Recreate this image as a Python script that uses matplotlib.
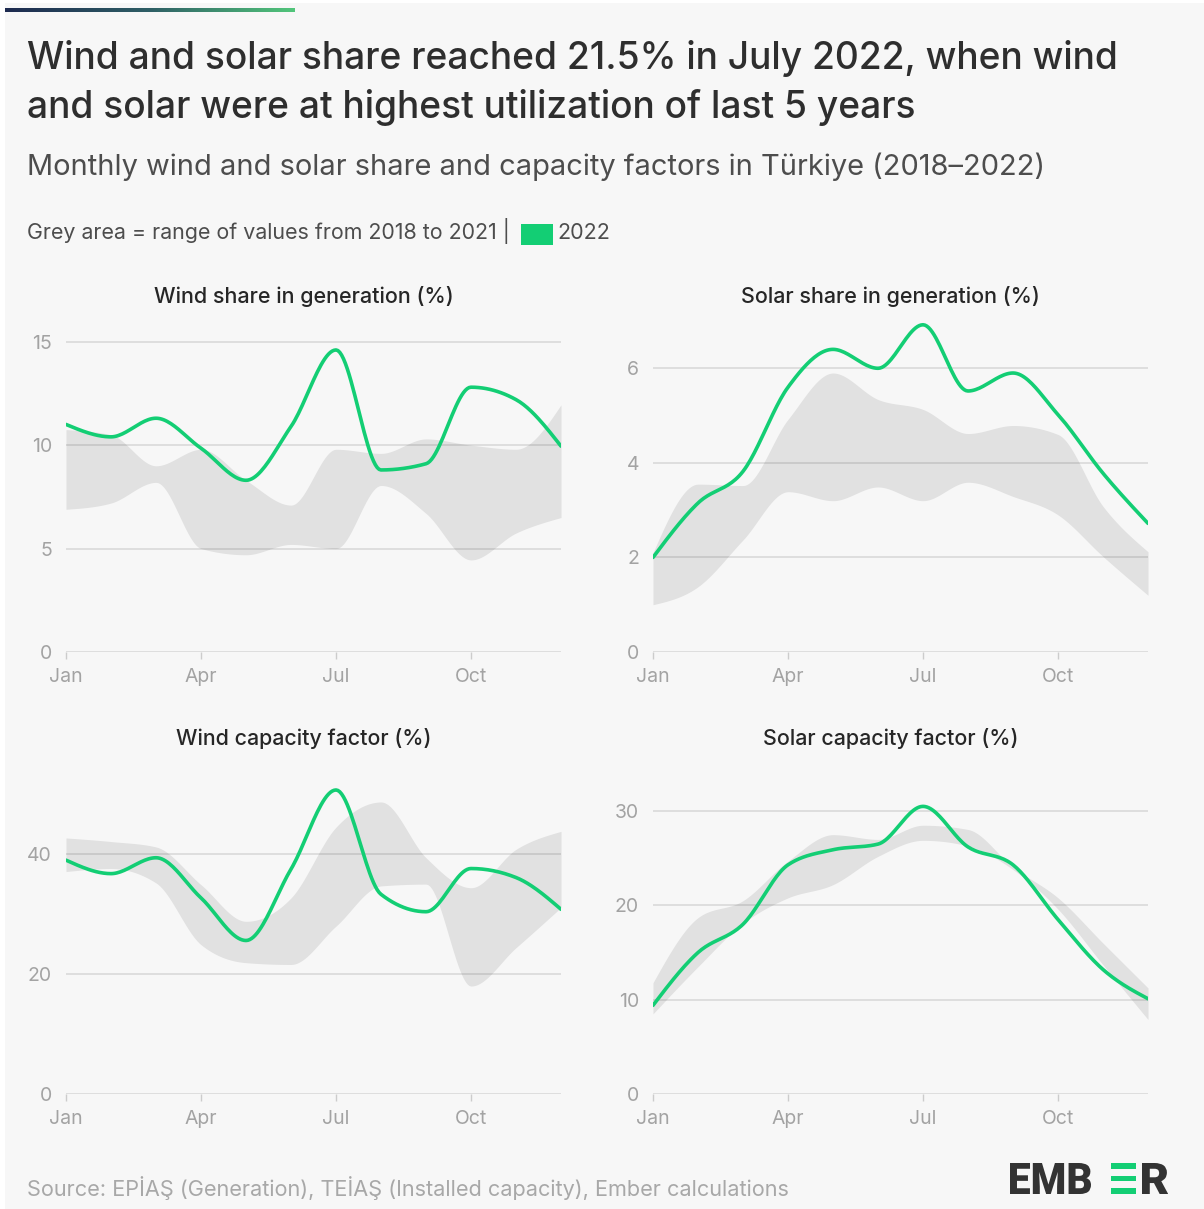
import numpy as np
import matplotlib
matplotlib.use("Agg")
import matplotlib.pyplot as plt
from matplotlib.patches import Rectangle, PathPatch
from matplotlib.textpath import TextPath
from matplotlib.font_manager import FontProperties
from matplotlib.transforms import Affine2D
from matplotlib.colors import LinearSegmentedColormap

# ---------------- data ----------------
months = ["Jan", "Feb", "Mar", "Apr", "May", "Jun", "Jul", "Aug", "Sep", "Oct", "Nov", "Dec"]
tick_months = ["Jan", "Apr", "Jul", "Oct"]

wind_share_2022 = [11.0, 10.4, 11.3, 9.85, 8.3, 10.9, 14.6, 8.8, 9.1, 12.8, 12.2, 9.95]
wind_share_max = [10.75, 10.5, 9.0, 9.8, 8.3, 7.1, 9.8, 9.6, 10.3, 10.0, 9.8, 11.95]
wind_share_min = [6.9, 7.2, 8.2, 5.0, 4.7, 5.2, 5.0, 8.05, 6.7, 4.45, 5.75, 6.5]

solar_share_2022 = [2.0, 3.15, 3.82, 5.6, 6.4, 6.0, 6.92, 5.52, 5.9, 5.02, 3.78, 2.72]
solar_share_max = [2.1, 3.55, 3.52, 4.92, 5.9, 5.34, 5.13, 4.62, 4.79, 4.6, 3.08, 2.12]
solar_share_min = [1.0, 1.38, 2.37, 3.39, 3.2, 3.49, 3.2, 3.59, 3.29, 2.9, 2.02, 1.2]

wind_cf_2022 = [39.0, 36.75, 39.4, 32.7, 25.6, 37.5, 50.7, 33.3, 30.4, 37.6, 36.1, 30.8]
wind_cf_max = [42.7, 42.1, 41.2, 34.9, 28.8, 32.7, 44.5, 48.7, 39.4, 34.4, 40.8, 43.8]
wind_cf_min = [37.1, 37.6, 35.2, 24.9, 21.9, 21.6, 28.0, 34.7, 35.0, 18.0, 24.4, 31.1]

solar_cf_2022 = [9.4, 15.0, 18.0, 24.3, 25.9, 26.5, 30.5, 26.2, 24.3, 18.5, 13.2, 10.1]
solar_cf_max = [11.8, 18.7, 20.5, 24.7, 27.5, 27.0, 28.5, 28.05, 24.05, 20.8, 16.0, 11.25]
solar_cf_min = [8.5, 13.5, 18.1, 20.8, 22.2, 25.2, 26.9, 26.3, 23.8, 19.6, 13.7, 7.9]

panels = [
    ("Wind share in generation (%)", wind_share_2022, wind_share_min, wind_share_max, [0, 5, 10, 15], 16),
    ("Solar share in generation (%)", solar_share_2022, solar_share_min, solar_share_max, [0, 2, 4, 6], 7),
    ("Wind capacity factor (%)", wind_cf_2022, wind_cf_min, wind_cf_max, [0, 20, 40], 55.2),
    ("Solar capacity factor (%)", solar_cf_2022, solar_cf_min, solar_cf_max, [0, 10, 20, 30], 35.1),
]

# ---------------- helpers ----------------
W, H = 1204, 1209
GREEN = "#13ce74"
FONT = ["Inter", "DejaVu Sans"]


def monotone(y, n=24):
    """d3 curveMonotoneX-like interpolation on unit-spaced x."""
    y = np.asarray(y, float)
    m = len(y)
    s = np.diff(y)
    t = np.zeros(m)
    for i in range(1, m - 1):
        s0, s1 = s[i - 1], s[i]
        p = (s0 + s1) / 2
        sg = (1 if s0 >= 0 else -1) + (1 if s1 >= 0 else -1)
        t[i] = sg * min(abs(s0), abs(s1), 0.5 * abs(p))
    t[0] = (3 * s[0] - t[1]) / 2
    t[-1] = (3 * s[-1] - t[-2]) / 2
    xs, ys = [], []
    u = np.linspace(0, 1, n, endpoint=False)
    for i in range(m - 1):
        h00 = 2 * u**3 - 3 * u**2 + 1
        h10 = u**3 - 2 * u**2 + u
        h01 = -2 * u**3 + 3 * u**2
        h11 = u**3 - u**2
        xs.append(i + u)
        ys.append(h00 * y[i] + h10 * t[i] + h01 * y[i + 1] + h11 * t[i + 1])
    xs.append([m - 1])
    ys.append([y[-1]])
    return np.concatenate(xs), np.concatenate(ys)


fig = plt.figure(figsize=(W / 100, H / 100), dpi=100)
fig.patch.set_facecolor("white")
fig.add_artist(Rectangle((5 / W, 0), 1 - 5 / W, 1 - 3 / H, transform=fig.transFigure,
                         facecolor="#f7f7f7", edgecolor="none", zorder=-10))

# gradient bar
gax = fig.add_axes([5 / W, 1 - 12 / H, 290 / W, 4 / H])
cmap = LinearSegmentedColormap.from_list("g", ["#1d2a4f", "#2f5f66", "#52c67b"])
gax.imshow(np.linspace(0, 1, 256)[None, :], aspect="auto", cmap=cmap)
gax.axis("off")

renderer = fig.canvas.get_renderer()


def fit_text(x_px, base_px, s, width_px, ha="left", **kw):
    t = fig.text(x_px / W, 1 - base_px / H, s, fontsize=20, ha=ha, va="baseline",
                 family=FONT, **kw)
    w = t.get_window_extent(renderer).width
    t.set_fontsize(20 * width_px / w)
    return t


t1 = fit_text(27, 69, "Wind and solar share reached 21.5% in July 2022, when wind", 1092,
              color="#2e2e2e", fontweight="medium")
fig.text(27 / W, 1 - 118 / H, "and solar were at highest utilization of last 5 years",
         fontsize=t1.get_fontsize(), ha="left", va="baseline", family=FONT,
         color="#2e2e2e", fontweight="medium")
fit_text(27, 175, "Monthly wind and solar share and capacity factors in Türkiye (2018–2022)", 1018,
         color="#4d4d4d")
fit_text(27, 239, "Grey area = range of values from 2018 to 2021 |", 484, color="#4d4d4d")
fig.add_artist(Rectangle((521 / W, 1 - 245 / H), 32 / W, 21 / H, transform=fig.transFigure,
                         facecolor=GREEN, edgecolor="none"))
fit_text(557, 239, "2022", 53, color="#4d4d4d")
fit_text(27, 1196, "Source: EPİAŞ (Generation), TEİAŞ (Installed capacity), Ember calculations", 763,
         color="#a8a8a8")

# EMBER logo via text paths fitted into boxes
fp = FontProperties(family=["Roboto", "DejaVu Sans"], weight="black")


def path_in_box(s, x0, x1, ytop, ybot, color):
    tp = TextPath((0, 0), s, size=100, prop=fp)
    ext = tp.get_extents()
    sx = (x1 - x0) / ext.width
    sy = (ybot - ytop) / ext.height
    tr = Affine2D().translate(-ext.x0, -ext.y0).scale(sx, sy).translate(x0, H - ybot)
    patch = PathPatch(tr.transform_path(tp), facecolor=color, edgecolor="none",
                      transform=None)
    fig.add_artist(patch)


path_in_box("EMB", 1010, 1091, 1163, 1194, "#333333")
path_in_box("R", 1142, 1168, 1163, 1194, "#333333")
for (ya, yb) in [(1163, 1169), (1175.5, 1181), (1188, 1194)]:
    fig.add_artist(Rectangle((1111 / W, 1 - yb / H), 25 / W, (yb - ya) / H,
                             transform=fig.transFigure, facecolor=GREEN, edgecolor="none"))

# ---------------- panels ----------------
positions = [(66, 321), (653, 321), (66, 763), (653, 763)]
ax_w, ax_h = 495, 331
title_widths = {"Wind share in generation (%)": 300, "Solar share in generation (%)": 299,
                "Wind capacity factor (%)": 255, "Solar capacity factor (%)": 255}
for (title, vals, lo, hi, yticks, ymax), (px, py) in zip(panels, positions):
    ax = fig.add_axes([px / W, 1 - (py + ax_h) / H, ax_w / W, ax_h / H])
    ax.patch.set_alpha(0)
    xl, yl = monotone(lo)
    xh, yh = monotone(hi)
    ax.fill_between(xl, yl, yh, color="#e1e1e1", lw=0, zorder=1)
    for yt in yticks:
        ax.axhline(yt, color="black", alpha=0.11, lw=1.3, zorder=2)
    xv, yv = monotone(vals)
    ax.plot(xv, yv, color=GREEN, lw=2.6, zorder=3, solid_capstyle="round")
    ax.set_xlim(0, 11)
    ax.set_ylim(0, ymax)
    for sp in ax.spines.values():
        sp.set_visible(False)
    ax.set_xticks([months.index(m) for m in tick_months])
    ax.set_xticklabels(tick_months)
    ax.set_yticks(yticks)
    ax.set_yticklabels([str(v) for v in yticks])
    ax.tick_params(axis="x", direction="out", length=5, width=1, color="#cccccc",
                   labelcolor="#a3a3a3", labelsize=14, pad=6.5)
    ax.tick_params(axis="y", length=0, labelcolor="#a3a3a3", labelsize=14, pad=10)
    for lab in ax.get_xticklabels() + ax.get_yticklabels():
        lab.set_family(FONT)
    fit_text(px + ax_w / 2 - 10, py - 18, title, title_widths[title],
             ha="center", color="#262626", fontweight="medium")

fig.savefig("out.png", dpi=100, facecolor=fig.get_facecolor())
